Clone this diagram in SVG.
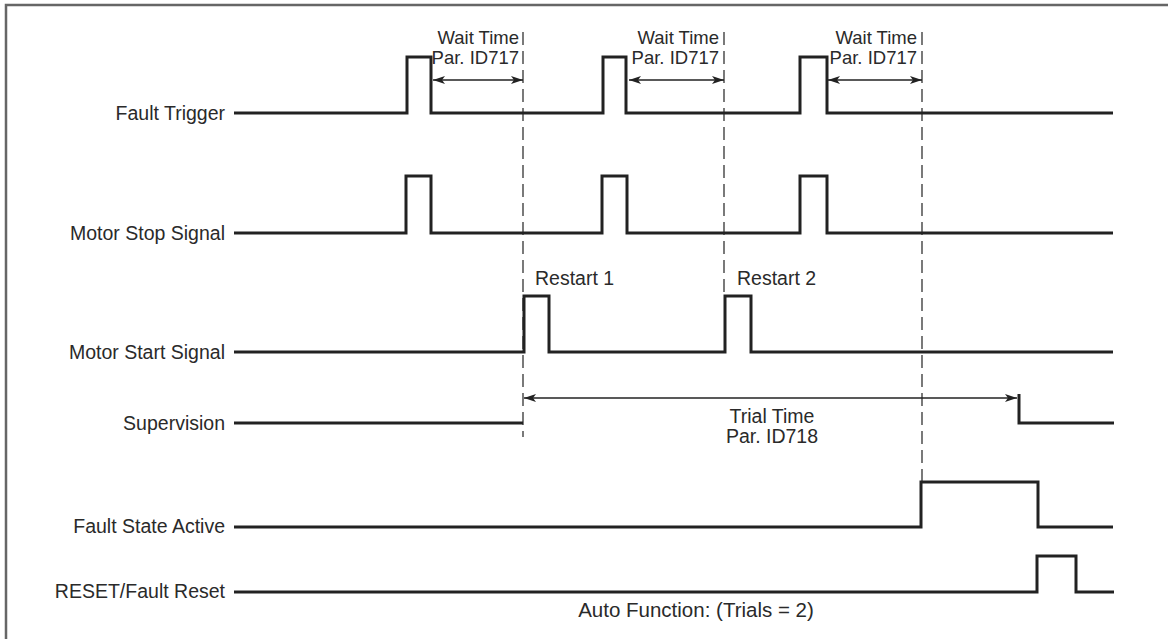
<svg xmlns="http://www.w3.org/2000/svg" width="1168" height="639" viewBox="0 0 1168 639">
<style>
  .lbl { font-family: "Liberation Sans", Arial, sans-serif; font-size: 19.5px; fill: #2a2a2a; }
  .sm { font-size: 18.5px; }
  .end { text-anchor: end; }
  .mid { text-anchor: middle; }
  .sig { fill: none; stroke: #222; stroke-width: 3; stroke-linejoin: miter; }
  .dash { fill: none; stroke: #333; stroke-width: 1.3; stroke-dasharray: 13 6; }
  .dim { fill: none; stroke: #222; stroke-width: 1.5; }
  .frame { fill: none; stroke: #666; stroke-width: 2.5; }
</style>
<defs>
  <marker id="ah" viewBox="0 0 12 8" refX="12" refY="4" markerWidth="12" markerHeight="8" markerUnits="userSpaceOnUse" orient="auto-start-reverse">
    <path d="M0,0 L12,4 L0,8 L3,4 Z" fill="#222"/>
  </marker>
</defs>
<rect width="1168" height="639" fill="#fff"/>
<path class="frame" d="M6,639 L6,5 L1168,5"/>

<g id="connectors">
  <line class="dash" x1="523" y1="32" x2="523" y2="437"/>
  <line class="dash" x1="724" y1="32" x2="724" y2="296"/>
  <line class="dash" x1="922" y1="32" x2="922" y2="482"/>
  <line class="dim" x1="433" y1="80" x2="523" y2="80" marker-start="url(#ah)" marker-end="url(#ah)"/>
  <line class="dim" x1="629" y1="80" x2="724" y2="80" marker-start="url(#ah)" marker-end="url(#ah)"/>
  <line class="dim" x1="828" y1="80" x2="922" y2="80" marker-start="url(#ah)" marker-end="url(#ah)"/>
  <line class="dim" x1="524" y1="398" x2="1017" y2="398" marker-start="url(#ah)" marker-end="url(#ah)"/>
</g>

<g id="fault-trigger">
  <text class="lbl end" x="225" y="120">Fault Trigger</text>
  <path class="sig" d="M234,113 H407 V57 H431 V113 H603 V57 H626 V113 H800 V57 H827 V113 H1113"/>
</g>
<g id="wait-time-1">
  <text class="lbl sm end" x="519" y="44">Wait Time</text>
  <text class="lbl sm end" x="519" y="64">Par. ID717</text>
</g>
<g id="wait-time-2">
  <text class="lbl sm end" x="719" y="44">Wait Time</text>
  <text class="lbl sm end" x="719" y="64">Par. ID717</text>
</g>
<g id="wait-time-3">
  <text class="lbl sm end" x="917" y="44">Wait Time</text>
  <text class="lbl sm end" x="917" y="64">Par. ID717</text>
</g>

<g id="motor-stop">
  <text class="lbl end" x="225" y="240">Motor Stop Signal</text>
  <path class="sig" d="M234,233 H406 V176 H431 V233 H602 V176 H627 V233 H800 V176 H827 V233 H1113"/>
</g>

<g id="motor-start">
  <text class="lbl end" x="225" y="359">Motor Start Signal</text>
  <text class="lbl" x="535" y="285">Restart 1</text>
  <text class="lbl" x="737" y="285">Restart 2</text>
  <path class="sig" d="M234,352 H524 V296 H549 V352 H725 V296 H751 V352 H1113"/>
</g>

<g id="supervision">
  <text class="lbl end" x="225" y="430">Supervision</text>
  <path class="sig" d="M234,423 H523"/>
  <path class="sig" d="M1019,394 V423 H1114"/>
  <text class="lbl mid" x="772" y="423">Trial Time</text>
  <text class="lbl mid" x="772" y="443">Par. ID718</text>
</g>

<g id="fault-state-active">
  <text class="lbl end" x="225" y="533">Fault State Active</text>
  <path class="sig" d="M234,527 H921 V482 H1038 V527 H1113"/>
</g>

<g id="reset">
  <text class="lbl end" x="225" y="598">RESET/Fault Reset</text>
  <path class="sig" d="M234,592 H1037 V556 H1076 V592 H1114"/>
  <text class="lbl mid" x="696" y="617" style="font-size:20.5px">Auto Function: (Trials = 2)</text>
</g>
</svg>
